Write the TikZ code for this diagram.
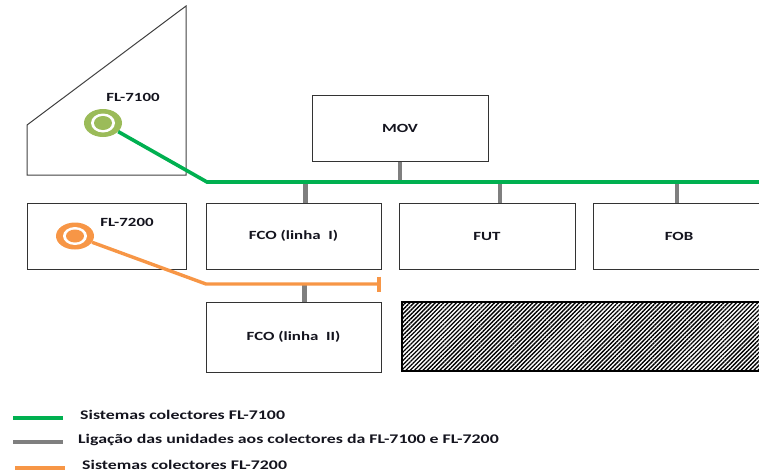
\documentclass[tikz,border=0pt]{standalone}
\usepackage{fontspec}
\newfontfamily\diagfont[FakeStretch=1.35]{Carlito}
\usetikzlibrary{arrows.meta,positioning,shapes.geometric,patterns.meta}
\definecolor{green71}{HTML}{00B050}
\definecolor{orange72}{HTML}{F79646}
\definecolor{olive71}{HTML}{9BBB59}
\definecolor{feedgray}{HTML}{7F7F7F}
\definecolor{inktext}{HTML}{14141E}

\tikzset{
  unit/.style={draw=black!80, line width=1pt, minimum height=66pt,
    inner sep=0pt, text=inktext, font=\diagfont\bfseries\fontsize{12.5}{14}\selectfont},
  tag/.style={text=inktext, font=\diagfont\bfseries\fontsize{12.5}{14}\selectfont},
  legtext/.style={anchor=west, inner sep=0pt, text=inktext,
    font=\diagfont\bfseries\fontsize{13.2}{15}\selectfont},
  bus71/.style={green71, line width=3.6pt},
  bus72/.style={orange72, line width=3.4pt},
  feeder/.style={feedgray, line width=4.2pt},
  blob/.style={ellipse, inner sep=0pt}
}

\begin{document}
\begin{tikzpicture}[x=1pt, y=-1pt]
  \useasboundingbox (0,0) rectangle (759,475);
  \clip (0,0) rectangle (759,475);

  % FL-7100 building
  \draw[black!75, line width=1pt] (27,125) -- (186,6) -- (186,175) -- (27,175) -- cycle;
  \node[tag] (fl71lbl) at (133,97) {FL-7100};

  % units
  \node[unit, minimum width=176pt] (mov) at (400,128) {MOV};
  \node[unit, minimum width=159pt] (fl72box) at (106.5,236) {};
  \node[tag] (fl72lbl) at (127,222) {FL-7200};
  \node[unit, minimum width=175pt] (fcoI) at (293.5,236) {FCO (linha~~I)};
  \node[unit, minimum width=176pt] (fut) at (487,236) {FUT};
  \node[unit, minimum width=172pt] (fob) at (679,236) {FOB};
  \node[unit, minimum width=175pt, minimum height=70pt] (fcoII) at (293.5,337) {FCO (linha~~II)};
  \node[draw=black, line width=1.5pt, minimum width=368pt, minimum height=69pt,
    pattern={Lines[angle=45, distance=3pt, line width=1.35pt]}, pattern color=black]
    (hatch) at (586,336.5) {};

  % collector points
  \coordinate (bend71) at (207,182);
  \coordinate (end71) at (759,182);
  \coordinate (bend72) at (206,284);
  \coordinate (stop72) at (381,284);

  % unit connections
  \draw[feeder] (mov.south) -- (mov.south |- bend71);
  \draw[feeder] ([xshift=12pt]fcoI.north) -- ([xshift=12pt]fcoI.north |- bend71);
  \draw[feeder] ([xshift=13pt]fut.north) -- ([xshift=13pt]fut.north |- bend71);
  \draw[feeder] ([xshift=-2pt]fob.north) -- ([xshift=-2pt]fob.north |- bend71);
  \draw[feeder] ([xshift=11pt]fcoII.north) -- ([xshift=11pt]fcoII.north |- bend72);

  % FL-7100 collector
  \node[blob, fill=olive71, minimum width=38pt, minimum height=28pt] (fl71ring) at (103,123) {};
  \node[blob, fill=white, minimum width=24pt, minimum height=19pt] (fl71gap) at (fl71ring.center) {};
  \node[blob, fill=olive71, minimum width=18pt, minimum height=14pt] (fl71dot) at (fl71ring.center) {};
  \draw[bus71] (fl71ring) -- (bend71) -- (end71);

  % FL-7200 collector
  \node[blob, fill=orange72, minimum width=38pt, minimum height=27pt] (fl72ring) at (75,236) {};
  \node[blob, fill=white, minimum width=24pt, minimum height=18pt] (fl72gap) at (fl72ring.center) {};
  \node[blob, fill=orange72, minimum width=18pt, minimum height=13pt] (fl72dot) at (fl72ring.center) {};
  \draw[bus72, -{Bar[width=15pt, line width=4pt]}] (fl72ring) -- (bend72) -- (stop72);

  % legend
  \draw[bus71] (13,418) -- (63,418);
  \node[legtext] (leg71) at (80,415) {Sistemas colectores FL-7100};
  \draw[feeder] (13,442) -- (63,442);
  \node[legtext] (legfeed) at (78,440) {Ligação das unidades aos colectores da FL-7100 e FL-7200};
  \draw[bus72] (15,468) -- (65,468);
  \node[legtext] (leg72) at (82,465) {Sistemas colectores FL-7200};
\end{tikzpicture}
\end{document}
